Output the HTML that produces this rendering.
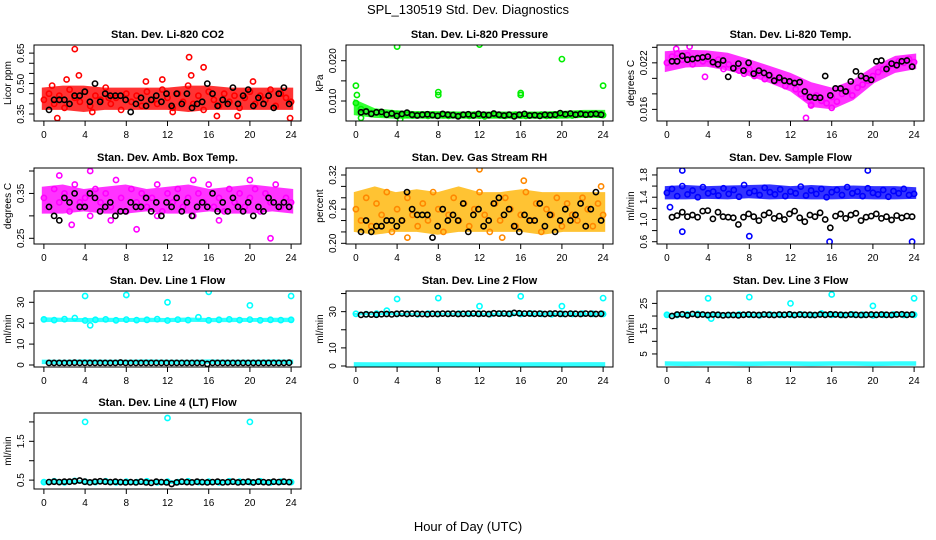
<!DOCTYPE html>
<html><head><meta charset="utf-8"><style>
body{margin:0;background:#fff;}
svg{display:block;font-family:"Liberation Sans",Arial,sans-serif;}
</style></head><body>
<svg id="chart" width="936" height="540" viewBox="0 0 936 540" xmlns="http://www.w3.org/2000/svg">
<text x="468" y="14" text-anchor="middle" font-size="13">SPL_130519  Std. Dev. Diagnostics</text>
<text x="468" y="531" text-anchor="middle" font-size="13">Hour of Day (UTC)</text>
</svg>
<script>
const xTicks = [0,4,8,12,16,20,24];
// CO2
const co2Lo=[0.37,0.37,0.36,0.37,0.37,0.37,0.37,0.36,0.37,0.37,0.37,0.37,0.37];
const co2Hi=[0.48,0.49,0.49,0.48,0.48,0.48,0.48,0.49,0.49,0.48,0.48,0.48,0.48];
const co2Pts=[0.42,0.45,0.40,0.44,0.38,0.47,0.43,0.41,0.46,0.39,0.44,0.42,0.48,0.40,0.43,0.37,0.45,0.41,0.44,0.39,0.46,0.42,0.40,0.47,0.43,0.38,0.45,0.41,0.49,0.40,0.44,0.37,0.46,0.42,0.39,0.45,0.41,0.44,0.38,0.43,0.46,0.40,0.44,0.42,0.47,0.39,0.45,0.43,0.41];
const co2Out=[[1.3,0.33],[3,0.67],[3.4,0.54],[14.1,0.63],[15.5,0.58],[14.3,0.54],[23.9,0.33],[6.3,0.43],[0.8,0.49],[16.8,0.34],[18.8,0.34],[2.2,0.52],[9.9,0.51],[11.5,0.52],[20.3,0.51],[4.7,0.36],[12.5,0.36]];
const co2Blk=[0.37,0.42,0.42,0.42,0.40,0.44,0.44,0.46,0.41,0.50,0.41,0.45,0.44,0.44,0.44,0.42,0.36,0.40,0.43,0.39,0.42,0.44,0.41,0.45,0.39,0.45,0.40,0.45,0.38,0.40,0.41,0.50,0.45,0.39,0.42,0.40,0.48,0.40,0.44,0.47,0.39,0.43,0.40,0.44,0.38,0.45,0.48,0.40];
// Pressure
const prLo=[0.0065,0.0058,0.0056,0.0056,0.0056,0.0056,0.0056,0.0056,0.0056,0.0056,0.0056,0.0058,0.0058];
const prHi=[0.0105,0.0082,0.0077,0.0075,0.0075,0.0074,0.0074,0.0074,0.0074,0.0074,0.0076,0.0078,0.0078];
const prPts=[0.0095,0.008,0.0075,0.007,0.0072,0.0068,0.0066,0.007,0.0068,0.0065,0.0066,0.0064,0.0066,0.0065,0.0063,0.0066,0.0064,0.0065,0.0063,0.0066,0.0064,0.0065,0.0063,0.0066,0.0064,0.0062,0.0065,0.0066,0.0064,0.0063,0.0065,0.0066,0.0064,0.0063,0.0065,0.0064,0.0066,0.0063,0.0065,0.0064,0.0066,0.0065,0.0064,0.0066,0.0068,0.0066,0.0069,0.0066,0.0065];
const prOut=[[0,0.0138],[0.1,0.0115],[4,0.0235],[8,0.0115],[8,0.0122],[12,0.0240],[16,0.0115],[16,0.0120],[20,0.0204],[24,0.0138],[4.3,0.0055],[0.5,0.0058]];
const prBlk=[0.0072,0.0074,0.0068,0.0072,0.0073,0.0066,0.0069,0.0063,0.0068,0.0071,0.0066,0.0064,0.0066,0.0067,0.0065,0.0063,0.0068,0.0066,0.0065,0.0062,0.0066,0.0067,0.0064,0.0068,0.0066,0.0065,0.0069,0.0066,0.0064,0.0066,0.0062,0.0066,0.0068,0.0064,0.0065,0.0063,0.0066,0.0065,0.0066,0.0070,0.0067,0.0069,0.0066,0.0068,0.0066,0.0067,0.0068,0.0066];
// Temp
const tLo=[0.0208,0.0214,0.0215,0.0210,0.0203,0.0194,0.0183,0.0163,0.0160,0.0172,0.0194,0.0207,0.0212];
const tHi=[0.0235,0.0237,0.0236,0.0233,0.0225,0.0216,0.0207,0.0195,0.0188,0.0198,0.0216,0.0229,0.0232];
const tPts=[0.0220,0.0228,0.0232,0.0224,0.0230,0.0218,0.0226,0.0222,0.0225,0.0219,0.0224,0.0212,0.0218,0.0214,0.0210,0.0206,0.0212,0.0203,0.0207,0.0199,0.0204,0.0196,0.0199,0.0190,0.0195,0.0186,0.0180,0.0175,0.0166,0.0178,0.0171,0.0168,0.0176,0.0170,0.0180,0.0183,0.0178,0.0188,0.0192,0.0197,0.0203,0.0208,0.0212,0.0215,0.0218,0.0222,0.0220,0.0225,0.0221];
const tOut=[[13.5,0.0149],[3.7,0.0202],[16,0.0162],[14,0.0165],[0.9,0.0238],[2.2,0.0241]];
const tBlk=[0.0222,0.0222,0.0229,0.0224,0.0225,0.0226,0.0227,0.0228,0.0221,0.0218,0.0223,0.0202,0.0213,0.0219,0.0210,0.0220,0.0206,0.0210,0.0207,0.0204,0.0197,0.0201,0.0197,0.0196,0.0194,0.0195,0.0183,0.0176,0.0175,0.0175,0.0203,0.0178,0.0187,0.0187,0.0183,0.0196,0.0209,0.0203,0.0200,0.0198,0.0222,0.0223,0.0212,0.0219,0.0217,0.0222,0.0223,0.0215];
// Amb box temp
const aLo=[0.305,0.305,0.31,0.305,0.305,0.31,0.305,0.305,0.31,0.305,0.305,0.31,0.305];
const aHi=[0.365,0.37,0.36,0.365,0.37,0.36,0.365,0.37,0.36,0.365,0.37,0.365,0.36];
const aPts=[0.34,0.32,0.36,0.33,0.35,0.31,0.37,0.33,0.34,0.30,0.36,0.33,0.35,0.32,0.38,0.34,0.31,0.36,0.33,0.35,0.32,0.34,0.37,0.31,0.35,0.33,0.36,0.32,0.34,0.30,0.35,0.33,0.37,0.32,0.34,0.31,0.36,0.33,0.35,0.32,0.34,0.36,0.31,0.35,0.33,0.37,0.32,0.34,0.33];
const aOut=[[1.5,0.39],[4.5,0.40],[2.7,0.28],[22,0.25],[9,0.27],[14.5,0.38],[20,0.38],[6.5,0.29],[17,0.29],[11,0.30]];
const aBlk=[0.32,0.30,0.29,0.34,0.33,0.35,0.32,0.32,0.35,0.34,0.31,0.32,0.33,0.30,0.31,0.31,0.33,0.32,0.32,0.34,0.31,0.33,0.30,0.33,0.32,0.34,0.31,0.33,0.30,0.32,0.33,0.32,0.35,0.31,0.33,0.31,0.34,0.32,0.31,0.33,0.30,0.32,0.31,0.34,0.33,0.32,0.33,0.32];
// RH
const rLo=[0.22,0.215,0.22,0.22,0.215,0.22,0.22,0.22,0.22,0.215,0.22,0.22,0.22];
const rHi=[0.29,0.30,0.29,0.295,0.29,0.30,0.29,0.29,0.295,0.29,0.29,0.29,0.29];
const rPts=[0.26,0.24,0.28,0.23,0.27,0.25,0.29,0.22,0.26,0.24,0.28,0.25,0.23,0.27,0.24,0.29,0.26,0.22,0.25,0.28,0.24,0.27,0.23,0.26,0.29,0.25,0.22,0.27,0.24,0.28,0.26,0.23,0.25,0.29,0.24,0.27,0.22,0.26,0.25,0.28,0.23,0.27,0.25,0.24,0.28,0.26,0.23,0.27,0.25];
const rOut=[[12,0.33],[16.3,0.31],[5,0.21],[23.8,0.30],[14.2,0.21]];
const rBlk=[0.22,0.24,0.22,0.23,0.23,0.24,0.24,0.23,0.24,0.29,0.26,0.25,0.25,0.25,0.21,0.23,0.26,0.24,0.25,0.24,0.27,0.22,0.25,0.26,0.23,0.24,0.27,0.28,0.25,0.26,0.23,0.22,0.25,0.24,0.24,0.27,0.23,0.25,0.22,0.24,0.26,0.24,0.25,0.27,0.23,0.26,0.29,0.24];
// Sample flow
const sLo=[1.36,1.36,1.37,1.36,1.38,1.36,1.37,1.36,1.36,1.37,1.36,1.36,1.37];
const sHi=[1.60,1.62,1.60,1.61,1.62,1.63,1.60,1.62,1.60,1.61,1.60,1.60,1.58];
const sPts=[1.48,1.55,1.42,1.60,1.45,1.52,1.40,1.58,1.47,1.50,1.43,1.56,1.46,1.53,1.41,1.62,1.48,1.51,1.44,1.57,1.49,1.45,1.54,1.42,1.50,1.47,1.59,1.43,1.52,1.46,1.55,1.40,1.49,1.53,1.44,1.58,1.47,1.50,1.42,1.56,1.48,1.45,1.53,1.41,1.51,1.47,1.55,1.44,1.46];
const sOut=[[1.5,1.88],[1.5,0.78],[15.8,0.6],[23.8,0.6],[19.5,1.88],[8,0.7],[0.3,1.22]];
const sBlk=[1.04,1.07,1.13,1.05,1.08,1.04,1.15,1.16,1.01,1.13,1.05,1.04,1.03,0.91,1.04,1.10,1.05,0.98,1.08,1.12,1.02,1.06,1.00,1.10,1.15,1.03,0.96,1.08,1.05,1.12,1.00,0.85,1.06,1.10,1.02,1.08,1.11,0.98,1.04,1.06,1.10,1.02,1.05,0.99,1.07,1.03,1.06,1.05];
// Line 1
const l1Lo=[20.5,20.6,20.5,20.5,20.6,20.5,20.5,20.6,20.5,20.5,20.6,20.5,20.5];
const l1Hi=[22.8,22.6,22.5,22.6,22.5,22.6,22.5,22.7,22.5,22.6,22.5,22.6,22.6];
const l1Pts=[21.8,21.5,21.9,22.5,21.3,21.6,21.8,21.4,21.7,21.5,21.6,21.9,21.3,21.7,21.5,22.8,21.4,21.6,21.8,21.5,21.7,21.4,21.6,21.5,21.6];
const l1Low=[1.5,1.4,1.6,1.5,1.5,1.6,1.5,1.4,1.6,1.5,1.5,1.6,1.5];
const l1Out=[[4,33],[8,33.5],[12,30],[16,35],[20,28.5],[24,33],[4.5,19]];
const l1Blk=[1.0,1.0,1.0,1.0,1.0,1.1,1.0,1.0,1.0,1.0,1.0,1.0,1.0,1.0,1.2,1.0,1.0,1.0,1.0,1.0,1.0,1.0,1.0,1.0,1.0,1.0,1.0,1.0,1.0,1.0,1.0,0.5,1.0,1.0,1.0,1.0,1.0,1.0,1.0,1.0,1.0,1.0,1.0,1.0,1.0,1.0,1.0,1.1];
// Line 2
const l2Lo=[28.0,28.1,28.1,28.2,28.2,28.2,28.1,28.2,28.2,28.1,28.2,28.2,28.1];
const l2Hi=[29.3,29.2,29.3,29.2,29.3,29.3,29.2,29.3,29.4,29.3,29.3,29.2,29.3];
const l2Pts=[28.8,28.6,28.9,30.5,28.7,28.8,28.6,28.9,28.7,28.8,28.9,28.7,28.8,28.6,28.9,28.8,28.7,28.9,28.8,28.6,28.8,28.7,28.9,28.8,28.7];
const l2Low=[0.9,0.8,0.9,0.8,0.9,0.9,0.8,0.9,0.8,0.9,0.8,0.9,0.9];
const l2Out=[[4,37],[8,37.5],[12,33],[16,38.5],[20,33],[24,37.5]];
const l2Blk=[28.2,28.5,28.4,28.3,28.6,28.7,28.5,28.8,29.0,28.7,28.9,28.8,28.7,28.6,28.8,28.7,28.9,28.8,28.9,28.7,28.8,28.9,29.0,28.8,28.9,28.7,29.1,28.9,29.0,28.8,29.3,29.1,28.9,29.0,28.8,28.9,28.7,28.9,29.0,28.8,28.7,28.9,28.8,28.7,28.9,28.8,28.7,28.8];
// Line 3
const l3Lo=[19.6,19.8,19.8,19.7,19.8,19.8,19.8,19.7,19.8,19.8,19.8,19.8,19.8];
const l3Hi=[21.2,21.0,21.3,21.1,21.0,21.1,21.0,21.1,21.3,21.1,21.1,21.0,21.1];
const l3Pts=[20.5,20.4,20.6,20.8,20.2,20.5,20.4,20.6,20.5,20.3,20.6,20.4,20.5,20.6,20.4,21.0,20.5,20.4,20.6,20.5,20.3,20.5,20.6,20.4,20.5];
const l3Low=[1.2,1.1,1.2,1.2,1.1,1.2,1.2,1.1,1.2,1.2,1.1,1.2,1.2];
const l3Out=[[4,27],[8,27.5],[12,25],[16,28.5],[20,24],[24,27],[4.3,19]];
const l3Blk=[20.0,20.6,20.7,20.3,20.8,20.5,20.6,20.4,20.6,20.5,20.3,20.4,20.4,20.3,20.5,20.6,20.5,20.4,20.6,20.5,20.4,20.6,20.5,20.7,20.4,20.6,20.5,20.5,20.4,20.6,20.5,20.7,20.6,20.5,20.4,20.6,20.5,20.4,20.5,20.6,20.5,20.6,20.5,20.4,20.6,20.7,20.5,20.6];
// Line 4
const l4Lo=[0.40,0.40,0.41,0.40,0.40,0.40,0.40,0.40,0.40,0.41,0.40,0.40,0.40];
const l4Hi=[0.50,0.51,0.50,0.50,0.50,0.49,0.50,0.50,0.50,0.49,0.50,0.50,0.50];
const l4Pts=[0.45,0.47,0.44,0.48,0.46,0.45,0.47,0.44,0.46,0.45,0.47,0.44,0.46,0.45,0.47,0.45,0.46,0.44,0.47,0.46,0.45,0.47,0.44,0.46,0.45];
const l4Out=[[4,2.0],[12,2.1],[20,2.0]];
const l4Blk=[0.45,0.46,0.45,0.46,0.46,0.47,0.49,0.46,0.44,0.46,0.47,0.46,0.45,0.46,0.45,0.44,0.45,0.44,0.46,0.44,0.43,0.46,0.45,0.44,0.40,0.44,0.46,0.45,0.44,0.46,0.45,0.44,0.45,0.46,0.44,0.45,0.46,0.44,0.45,0.46,0.44,0.46,0.45,0.44,0.46,0.45,0.46,0.45];

const panels=[
 {name:"co2",title:"Stan. Dev. Li-820 CO2",yl:"Licor ppm",col:0,row:0,y0:0.3155,y1:0.690,ticks:[0.35,0.40,0.45,0.50,0.55,0.60,0.65],labels:[0.35,0.50,0.65],dec:2,c:"#ff0000",band:"#ff0000",lo:co2Lo,hi:co2Hi,pts:co2Pts,out:co2Out,blk:co2Blk},
 {name:"pressure",title:"Stan. Dev. Li-820 Pressure",yl:"kPa",col:1,row:0,y0:0.00504,y1:0.0239,ticks:[0.010,0.015,0.020],labels:[0.010,0.020],dec:3,c:"#00ee00",band:"#00ff00",lo:prLo,hi:prHi,pts:prPts,out:prOut,blk:prBlk},
 {name:"temp",title:"Stan. Dev. Li-820 Temp.",yl:"degrees C",col:2,row:0,y0:0.0145,y1:0.0243,ticks:[0.016,0.018,0.020,0.022,0.024],labels:[0.016,0.022],dec:3,c:"#ff00ff",band:"#ff00ff",lo:tLo,hi:tHi,pts:tPts,out:tOut,blk:tBlk},
 {name:"amb-box-temp",title:"Stan. Dev. Amb. Box Temp.",yl:"degrees C",col:0,row:1,y0:0.2373,y1:0.4067,ticks:[0.25,0.30,0.35,0.40],labels:[0.25,0.35],dec:2,c:"#ff00ff",band:"#ff00ff",lo:aLo,hi:aHi,pts:aPts,out:aOut,blk:aBlk},
 {name:"gas-stream-rh",title:"Stan. Dev. Gas Stream RH",yl:"percent",col:1,row:1,y0:0.1988,y1:0.3323,ticks:[0.20,0.22,0.24,0.26,0.28,0.30,0.32],labels:[0.20,0.26,0.32],dec:2,c:"#ff8800",band:"#ffb400",lo:rLo,hi:rHi,pts:rPts,out:rOut,blk:rBlk},
 {name:"sample-flow",title:"Stan. Dev. Sample Flow",yl:"ml/min",col:2,row:1,y0:0.559,y1:1.925,ticks:[0.6,0.8,1.0,1.2,1.4,1.6,1.8],labels:[0.6,1.0,1.4,1.8],dec:1,c:"#0000ff",band:"#0000ff",lo:sLo,hi:sHi,pts:sPts,out:sOut,blk:sBlk},
 {name:"line1-flow",title:"Stan. Dev. Line 1 Flow",yl:"ml/min",col:0,row:2,y0:-0.96,y1:35.4,ticks:[0,10,20,30],labels:[0,10,20,30],dec:0,c:"#00ffff",band:"#00ffff",lo:l1Lo,hi:l1Hi,pts:l1Pts,low:l1Low,out:l1Out,blk:l1Blk},
 {name:"line2-flow",title:"Stan. Dev. Line 2 Flow",yl:"ml/min",col:1,row:2,y0:-0.55,y1:41.4,ticks:[0,10,20,30,40],labels:[0,10,30],dec:0,c:"#00ffff",band:"#00ffff",lo:l2Lo,hi:l2Hi,pts:l2Pts,low:l2Low,out:l2Out,blk:l2Blk},
 {name:"line3-flow",title:"Stan. Dev. Line 3 Flow",yl:"ml/min",col:2,row:2,y0:-0.16,y1:29.9,ticks:[5,10,15,20,25],labels:[5,15,25],dec:0,c:"#00ffff",band:"#00ffff",lo:l3Lo,hi:l3Hi,pts:l3Pts,low:l3Low,out:l3Out,blk:l3Blk},
 {name:"line4-flow",title:"Stan. Dev. Line 4 (LT) Flow",yl:"ml/min",col:0,row:3,y0:0.271,y1:2.23,ticks:[0.5,1.0,1.5,2.0],labels:[0.5,1.5],dec:1,c:"#00ffff",band:"#00ffff",lo:l4Lo,hi:l4Hi,pts:l4Pts,out:l4Out,blk:l4Blk}
];
const NS="http://www.w3.org/2000/svg";
const svg=document.getElementById('chart');
function mk(tag,attrs,parent){const e=document.createElementNS(NS,tag);for(const k in attrs)e.setAttribute(k,attrs[k]);(parent||svg).appendChild(e);return e;}
const lefts=[34,346,657], tops=[45,168,291,413], W=267, H=76;
panels.forEach(p=>{
  const L=lefts[p.col], T=tops[p.row], B=T+H, R=L+W;
  const g=mk('g',{});
  
  
  const xs=v=>L+(v+0.96)/25.92*W;
  const ys=v=>B-(v-p.y0)/(p.y1-p.y0)*H;
  const clip='clip-'+p.name;
  const cp=mk('clipPath',{id:clip},g); mk('rect',{x:L,y:T,width:W,height:H},cp);
  const plot=mk('g',{'clip-path':'url(#'+clip+')'},g);
  
  
  function band(lo,hi,color,nm){
    const n=lo.length; let d='';
    for(let i=0;i<n;i++){d+=(i?'L':'M')+xs(-0.2+i*24.4/(n-1)).toFixed(1)+','+ys(hi[i]).toFixed(1);}
    for(let i=n-1;i>=0;i--){d+='L'+xs(-0.2+i*24.4/(n-1)).toFixed(1)+','+ys(lo[i]).toFixed(1);}
    const e=mk('path',{d:d+'Z',fill:color,'fill-opacity':0.8},plot);
    
    
  }
  band(p.lo,p.hi,p.band,p.name+'-band');
  if(p.low){
    const lo2=p.low.map(v=>v-(p.y1-p.y0)*0.03), hi2=p.low.map(v=>v+(p.y1-p.y0)*0.03);
    band(lo2,hi2,p.band,p.name+'-low-band');
  }
  function circ(x,y,color,nm){
    const e=mk('circle',{cx:xs(x).toFixed(1),cy:ys(y).toFixed(1),r:2.6,fill:'none',stroke:color,'stroke-width':1.6},plot);
    
    
  }
  p.pts.forEach((v,i)=>circ(i*24/(p.pts.length-1),v,p.c,p.name+'-point'));
  p.out.forEach(o=>circ(o[0],o[1],p.c,p.name+'-outlier'));
  p.blk.forEach((v,i)=>circ(0.5+i*23.3/(p.blk.length-1),v,'#000',p.name+'-black-point'));
  const box=mk('rect',{x:L,y:T,width:W,height:H,fill:'none',stroke:'#000','stroke-width':1},g);
  
  
  xTicks.forEach(t=>{
    mk('line',{x1:xs(t),x2:xs(t),y1:B,y2:B+5,stroke:'#000'},g);
    const tx=mk('text',{x:xs(t),y:B+17,'text-anchor':'middle','font-size':10},g);
    tx.textContent=t;
    
    
  });
  p.ticks.forEach(t=>{mk('line',{x1:L-5,x2:L,y1:ys(t),y2:ys(t),stroke:'#000'},g);});
  p.labels.forEach(t=>{
    const yy=ys(t);
    const tx=mk('text',{x:L-10,y:yy,'text-anchor':'middle','font-size':10,transform:'rotate(-90 '+(L-10)+' '+yy+')'},g);
    tx.textContent=t.toFixed(p.dec);
    
    
  });
  const yl=mk('text',{x:L-23,y:T+H/2,'text-anchor':'middle','font-size':10,transform:'rotate(-90 '+(L-23)+' '+(T+H/2)+')'},g);
  yl.textContent=p.yl;
  
  
  const ti=mk('text',{x:L+W/2,y:T-7,'text-anchor':'middle','font-size':11,'font-weight':'bold'},g);
  ti.textContent=p.title;
  
  
});
</script>
</body></html>
